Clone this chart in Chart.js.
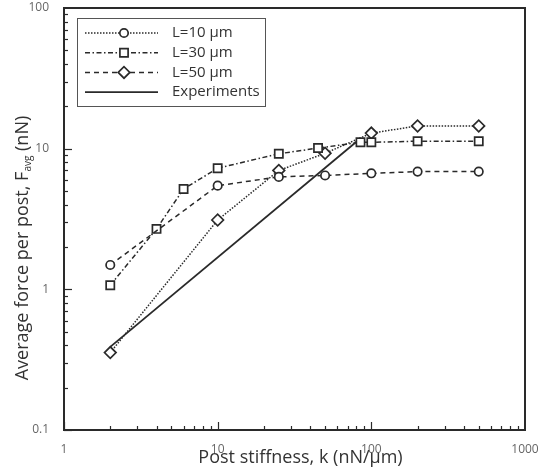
<!DOCTYPE html>
<html>
<head>
<meta charset="utf-8">
<script src="https://cdn.jsdelivr.net/npm/chart.js@4.4.1/dist/chart.umd.min.js"></script>
<style>
  html, body { margin: 0; padding: 0; background: #fff; }
  #wrap { width: 543px; height: 473px; }
</style>
</head>
<body>
<div id="wrap"><canvas id="chart" width="543" height="473"></canvas></div>
<script>
// Values (log-log axes)
const kL10 = [2, 10, 25, 50, 100, 200, 500];
const fL10 = [1.49, 5.46, 6.3, 6.45, 6.68, 6.87, 6.87];

const kL30 = [2, 4, 6, 10, 25, 45, 85, 100, 200, 500];
const fL30 = [1.07, 2.69, 5.17, 7.26, 9.2, 10.1, 11.1, 11.1, 11.3, 11.3];

const kL50 = [2, 10, 25, 50, 100, 200, 500];
const fL50 = [0.355, 3.11, 7.0, 9.27, 12.9, 14.5, 14.5];

const kExp = [2, 80];
const fExp = [0.39, 11.2];

const xTicks = [1, 10, 100, 1000];
const xTickLabels = ['1', '10', '100', '1000'];
const yTicks = [0.1, 1, 10, 100];
const yTickLabels = ['0.1', '1', '10', '100'];

const FONT = '"Open Sans", "DejaVu Sans", sans-serif';
const INK = '#2a2a2a';

const toPoints = (xs, ys) => xs.map((x, i) => ({ x: x, y: ys[i] }));

// Common look for a series
const series = (label, xs, ys, style, dash, legendDash, radius) => ({
    label: label,
    data: toPoints(xs, ys),
    borderColor: INK,
    borderWidth: 1.5,
    borderDash: dash,
    legendDash: legendDash,
    pointStyle: style,
    pointRadius: radius,
    pointBorderWidth: 1.7,
    pointBackgroundColor: '#fff',
    pointBorderColor: INK,
    fill: false,
    tension: 0
});

const datasets = [
    series('L=10 \u00b5m', kL10, fL10, 'circle', [5, 4], [1.5, 1.5], 4.2),
    series('L=30 \u00b5m', kL30, fL30, 'rect', [5, 2.5, 1.5, 2.5], [5, 2.5, 1.5, 2.5], 5.8),
    series('L=50 \u00b5m', kL50, fL50, 'rectRot', [1.5, 1.5], [5, 4], 5.8),
    series('Experiments', kExp, fExp, false, [], [], 0)
];
datasets[3].borderWidth = 1.8;

// Minor/major ticks pointing inward, frame, titles, legend box
const decoration = {
    id: 'decoration',
    afterDatasetsDraw(chart) {
        const { ctx, chartArea: a, scales } = chart;
        const xs = scales.x, ys = scales.y;
        ctx.save();
        ctx.strokeStyle = INK;
        ctx.lineWidth = 1.2;
        ctx.setLineDash([]);
        for (let d = 0; d < 3; d++) {
            for (let m = 1; m <= 9; m++) {
                const v = m * Math.pow(10, d);
                const len = m === 1 ? 8 : 4;
                const px = Math.round(xs.getPixelForValue(v)) + 0.5;
                ctx.beginPath();
                ctx.moveTo(px, a.bottom);
                ctx.lineTo(px, a.bottom - len);
                ctx.stroke();
                const py = Math.round(ys.getPixelForValue(v / 10)) + 0.5;
                ctx.beginPath();
                ctx.moveTo(a.left, py);
                ctx.lineTo(a.left + len, py);
                ctx.stroke();
            }
        }
        ctx.lineWidth = 2;
        ctx.strokeRect(a.left, a.top, a.right - a.left, a.bottom - a.top);

        // x title
        ctx.fillStyle = '#333';
        ctx.font = '18px ' + FONT;
        ctx.textAlign = 'center';
        ctx.textBaseline = 'middle';
        ctx.fillText('Post stiffness, k (nN/\u00b5m)', (a.left + a.right) / 2 + 6, 458);

        // y title with subscript
        const p1 = 'Average force per post, F', sub = 'avg', p2 = ' (nN)';
        ctx.font = '18px ' + FONT;
        const w1 = ctx.measureText(p1).width, w3 = ctx.measureText(p2).width;
        ctx.font = '10px ' + FONT;
        const w2 = ctx.measureText(sub).width;
        const total = w1 + w2 + w3;
        ctx.translate(23, 248);
        ctx.rotate(-Math.PI / 2);
        ctx.textAlign = 'left';
        let cx = -total / 2;
        ctx.font = '18px ' + FONT;
        ctx.fillText(p1, cx, 0);
        cx += w1;
        ctx.font = '10px ' + FONT;
        ctx.fillText(sub, cx, 5);
        cx += w2;
        ctx.font = '18px ' + FONT;
        ctx.fillText(p2, cx, 0);
        ctx.restore();

        // legend
        ctx.save();
        const box = { left: 77, top: 18, right: 265, bottom: 106 };
        ctx.fillStyle = '#fff';
        ctx.fillRect(box.left, box.top, box.right - box.left, box.bottom - box.top);
        ctx.strokeStyle = '#555';
        ctx.lineWidth = 1;
        ctx.strokeRect(box.left + 0.5, box.top + 0.5, box.right - box.left, box.bottom - box.top);
        chart.data.datasets.forEach((ds, i) => {
            const y = 33 + i * 19.7;
            ctx.strokeStyle = INK;
            ctx.lineWidth = ds.borderWidth;
            ctx.setLineDash(ds.legendDash);
            ctx.beginPath();
            ctx.moveTo(85, y);
            ctx.lineTo(158, y);
            ctx.stroke();
            ctx.setLineDash([]);
            if (ds.pointStyle) {
                ctx.fillStyle = '#fff';
                ctx.lineWidth = ds.pointBorderWidth;
                Chart.helpers.drawPoint(ctx, {
                    pointStyle: ds.pointStyle,
                    radius: ds.pointRadius,
                    borderWidth: ds.pointBorderWidth,
                    rotation: 0
                }, 124, y);
            }
            ctx.fillStyle = '#333';
            ctx.font = '15px ' + FONT;
            ctx.textAlign = 'left';
            ctx.textBaseline = 'middle';
            ctx.fillText(ds.label, 172, y);
        });
        ctx.restore();
    }
};

new Chart(document.getElementById('chart'), {
    type: 'line',
    data: { datasets: datasets },
    options: {
        responsive: false,
        animation: false,
        devicePixelRatio: 1,
        layout: { padding: { top: 8, right: 18, left: 0, bottom: 0 } },
        plugins: {
            legend: { display: false },
            tooltip: { enabled: false }
        },
        scales: {
            x: {
                type: 'logarithmic',
                min: 1,
                max: 1000,
                grid: { display: false },
                border: { display: false },
                afterBuildTicks: (s) => { s.ticks = xTicks.map(v => ({ value: v })); },
                afterFit: (s) => { s.height = 43; s.paddingLeft = 0; s.paddingRight = 0; },
                ticks: {
                    autoSkip: false,
                    maxRotation: 0,
                    padding: 4,
                    color: '#666',
                    font: { family: FONT, size: 12 },
                    callback: (v, i) => xTickLabels[i]
                }
            },
            y: {
                type: 'logarithmic',
                min: 0.1,
                max: 100,
                grid: { display: false },
                border: { display: false },
                afterBuildTicks: (s) => { s.ticks = yTicks.map(v => ({ value: v })); },
                afterFit: (s) => { s.width = 64; s.paddingTop = 0; s.paddingBottom = 0; },
                ticks: {
                    autoSkip: false,
                    padding: 7,
                    color: '#666',
                    font: { family: FONT, size: 12 },
                    callback: (v, i) => yTickLabels[i]
                }
            }
        }
    },
    plugins: [decoration]
});
</script>
</body>
</html>
